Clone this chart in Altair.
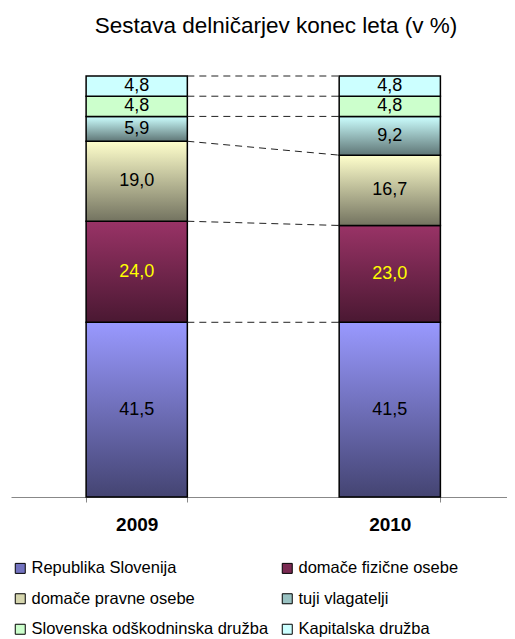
import altair as alt
import pandas as pd
import numpy as np

categories = ["Republika Slovenija", "domače fizične osebe", "domače pravne osebe",
              "tuji vlagatelji", "Slovenska odškodninska družba", "Kapitalska družba"]
years = ["2009", "2010"]
values_2009 = [41.5, 24.0, 19.0, 5.9, 4.8, 4.8]
values_2010 = [41.5, 23.0, 16.7, 9.2, 4.8, 4.8]

grad_top = ["#9999FF", "#993366", "#FFFFCC", "#CCFFFF", "#CCFFCC", "#CCFFFF"]
grad_bottom = ["#444472", "#4A1832", "#737360", "#5F7676", "#CCFFCC", "#CCFFFF"]
legend_colors = ["#7373C0", "#7A2A52", "#D6D6AE", "#99C2C2", "#CCFFCC", "#CCFFFF"]

FONT = "Liberation Sans"

rows = []
for y, vals in zip(years, [values_2009, values_2010]):
    for i, (c, v) in enumerate(zip(categories, vals)):
        rows.append({"year": y, "cat": c, "order": i, "value": v})
df = pd.DataFrame(rows)

cum09 = np.cumsum(values_2009)
cum10 = np.cumsum(values_2010)
conn = pd.DataFrame({"a": "2009", "b": "2010", "ya": cum09, "yb": cum10})

xscale = alt.Scale(domain=years, paddingInner=0.6, paddingOuter=0.28, align=0.53)
yscale = alt.Scale(domain=[0, 100])

base = alt.Chart(df).transform_stack(
    stack="value", groupby=["year"], as_=["y0", "y1"],
    sort=[alt.SortField("order", order="ascending")]
)

xenc = alt.X("year:N", scale=xscale, axis=alt.Axis(
    title=None, labelAngle=0, labelFontSize=19, labelFontWeight="bold",
    labelFont=FONT, labelColor="black", domainColor="#888888", tickColor="#888888",
    tickBand="extent", tickSize=5, labelPadding=13, grid=False, domainWidth=1))

layers = []
for i, c in enumerate(categories):
    grad = alt.LinearGradient(
        gradient="linear", x1=0, x2=0, y1=0, y2=1,
        stops=[alt.GradientStop(color=grad_top[i], offset=0),
               alt.GradientStop(color=grad_bottom[i], offset=1)])
    layers.append(
        base.transform_filter(alt.datum.cat == c).mark_bar(
            fill=grad, stroke="black", strokeWidth=1.5
        ).encode(x=xenc, y=alt.Y("y0:Q", scale=yscale, axis=None), y2="y1:Q")
    )

legend_layer = base.mark_square(opacity=0).encode(
    x=alt.X("year:N", scale=xscale),
    y=alt.Y("y0:Q", scale=yscale, axis=None),
    color=alt.Color("cat:N", scale=alt.Scale(domain=categories, range=legend_colors),
                    legend=alt.Legend(
                        title=None, orient="none", legendX=1, legendY=484,
                        direction="horizontal", columns=2, padding=0,
                        symbolType="square", symbolSize=100,
                        symbolStrokeColor="black", symbolStrokeWidth=1,
                        symbolOpacity=1, labelFontSize=16.5, labelFont=FONT,
                        labelOffset=3, labelColor="black", rowPadding=13.5,
                        columnPadding=10, labelLimit=400))
)

labels = base.transform_calculate(
    mid="(datum.y0 + datum.y1) / 2",
    lab="replace(format(datum.value, '.1f'), '.', ',')"
).mark_text(fontSize=18, font=FONT, baseline="middle").encode(
    x=alt.X("year:N", scale=xscale),
    y=alt.Y("mid:Q", scale=yscale, axis=None),
    text="lab:N",
    color=alt.condition(alt.datum.cat == "domače fizične osebe",
                        alt.value("#FFFF00"), alt.value("black"))
)

rules = alt.Chart(conn).mark_rule(
    color="#222222", strokeWidth=1, strokeDash=[7, 5]
).encode(
    x=alt.X("a:N", scale=xscale, bandPosition=1),
    x2=alt.X2("b:N", bandPosition=0),
    y=alt.Y("ya:Q", scale=yscale, axis=None),
    y2="yb:Q",
)

chart = alt.layer(*layers, rules, labels, legend_layer).properties(
    width=496, height=421,
    title=alt.TitleParams("Sestava delničarjev konec leta (v %)", fontSize=22.5,
                          font=FONT, fontWeight="normal", anchor="middle",
                          dx=17, offset=38, color="black"),
    padding={"left": 3, "right": 0, "top": 68, "bottom": 142},
    autosize=alt.AutoSizeParams(type="none"),
).configure_view(stroke=None)

chart.save("out.html", embed_options={"renderer": "svg", "actions": False})
